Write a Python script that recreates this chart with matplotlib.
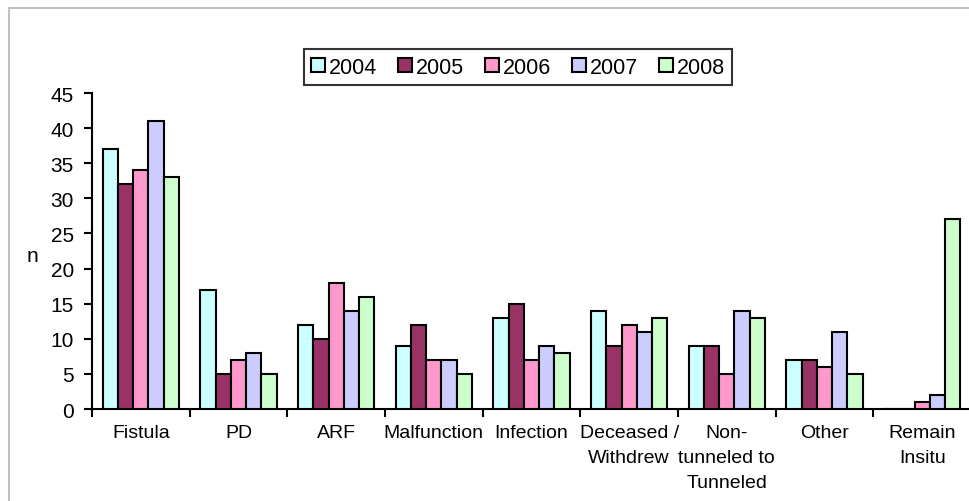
import numpy as np
import matplotlib
matplotlib.use("Agg")
import matplotlib.pyplot as plt
from matplotlib.patches import Rectangle

plt.rcParams['font.family'] = ['Liberation Sans', 'DejaVu Sans']

categories = ["Fistula", "PD", "ARF", "Malfunction", "Infection",
              "Deceased /\nWithdrew", "Non-\ntunneled to\nTunneled", "Other",
              "Remain\nInsitu"]
years = ["2004", "2005", "2006", "2007", "2008"]
v2004 = [37, 17, 12, 9, 13, 14, 9, 7, 0]
v2005 = [32, 5, 10, 12, 15, 9, 9, 7, 0]
v2006 = [34, 7, 18, 7, 7, 12, 5, 6, 1]
v2007 = [41, 8, 14, 7, 9, 11, 14, 11, 2]
v2008 = [33, 5, 16, 5, 8, 13, 13, 5, 27]
yticks = [0, 5, 10, 15, 20, 25, 30, 35, 40, 45]

series = [v2004, v2005, v2006, v2007, v2008]
colors = ["#CCFFFF", "#993366", "#FF99CC", "#CCCCFF", "#CCFFCC"]

W, H = 969, 502
fig = plt.figure(figsize=(W / 100, H / 100), dpi=100)
ax = fig.add_axes([92 / W, 1 - 410 / H, (971 - 92) / W, (410 - 94) / H])

x = np.arange(len(categories))
bw = 0.156
for i, (vals, c, yr) in enumerate(zip(series, colors, years)):
    ax.bar(x + (i - 2) * bw, vals, width=bw, color=c, edgecolor="black",
           linewidth=1.5, label=yr, zorder=3)

ax.set_xlim(-0.5, len(categories) - 0.5)
ax.set_ylim(0, 45)
ax.set_yticks(yticks)
ax.tick_params(axis='y', labelsize=15, length=6, width=1.5, direction='out', pad=7)
ax.set_xticks(x)
ax.set_xticklabels(categories, fontsize=14, linespacing=1.6)
ax.tick_params(axis='x', which='major', length=0, pad=11)
ax.set_xticks(np.arange(len(categories) + 1) - 0.5, minor=True)
ax.tick_params(axis='x', which='minor', length=6, width=1.5, direction='out')

for s in ["top", "right"]:
    ax.spines[s].set_visible(False)
for s in ["left", "bottom"]:
    ax.spines[s].set_linewidth(1.5)
    ax.spines[s].set_color("black")

fig.text(32 / W, 1 - 257 / H, "n", fontsize=15, ha="center", va="center")

leg = fig.legend(loc="center", bbox_to_anchor=(518 / W, 1 - 68 / H), ncol=5,
                 fontsize=15.5, frameon=True, fancybox=False, edgecolor="black",
                 handlelength=0.65, handleheight=0.65, handletextpad=0.15,
                 columnspacing=1.0, borderpad=0.35, borderaxespad=0)
leg.get_frame().set_linewidth(1.5)

# outer chart-area border
fig.patches.append(Rectangle((9 / W, -0.1), 1.2, 1 - 9 / H + 0.1,
                             transform=fig.transFigure, fill=False,
                             edgecolor="#C0C0C0", linewidth=1.5, zorder=0))

fig.savefig("out.png", dpi=100)
